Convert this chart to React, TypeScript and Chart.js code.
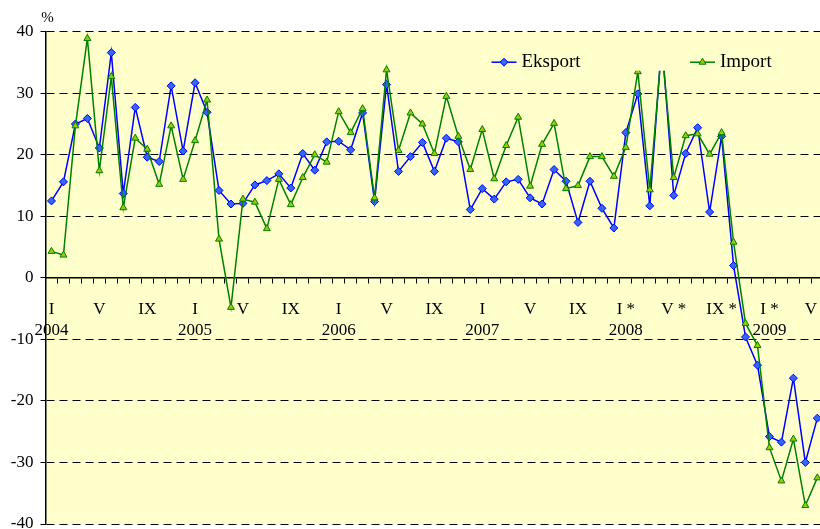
import React, { useEffect, useRef } from 'react';
import { Chart, registerables } from 'chart.js';

Chart.register(...registerables);

// ---- data ----
const romanMonths = ['I', 'II', 'III', 'IV', 'V', 'VI', 'VII', 'VIII', 'IX', 'X', 'XI', 'XII'];
const years = ['2004', '2005', '2006', '2007', '2008', '2009'];
const labelledMonths = ['I', 'V', 'IX'];
const starredYears = ['2008', '2009'];
const yTickMin = -40;
const yTickMax = 40;
const yTickStep = 10;

const eksport = [
  12.5, 15.6, 25.0, 25.9, 21.1, 36.6, 13.7, 27.7, 19.6, 18.9, 31.2, 20.6,
  31.7, 26.9, 14.2, 12.0, 12.1, 15.1, 15.8, 16.9, 14.6, 20.2, 17.5, 22.1,
  22.2, 20.8, 26.8, 12.4, 31.4, 17.3, 19.7, 22.0, 17.3, 22.7, 22.1, 11.1,
  14.5, 12.8, 15.6, 16.0, 13.0, 12.0, 17.6, 15.7, 9.0, 15.7, 11.3, 8.1,
  23.6, 29.9, 11.7, 38.5, 13.4, 20.2, 24.4, 10.7, 23.0, 2.0, -9.6, -14.2,
  -25.8, -26.7, -16.3, -30.0, -22.8,
];

const importValues = [
  4.3, 3.7, 24.7, 38.9, 17.4, 32.7, 11.4, 22.7, 20.9, 15.2, 24.7, 16.0,
  22.3, 28.9, 6.3, -4.8, 12.8, 12.3, 8.0, 16.0, 11.9, 16.3, 20.0, 18.8,
  27.0, 23.6, 27.5, 13.0, 33.8, 20.7, 26.8, 25.0, 20.2, 29.5, 23.0, 17.6,
  24.1, 16.1, 21.5, 26.1, 14.9, 21.7, 25.1, 14.5, 15.0, 19.7, 19.7, 16.5,
  21.2, 33.5, 14.3, 37.5, 16.3, 23.1, 23.4, 20.1, 23.6, 5.8, -7.4, -11.0,
  -27.6, -33.0, -26.2, -37.0, -32.5,
];

const pointMonth: string[] = [];
const pointYear: string[] = [];
years.forEach((y) => romanMonths.forEach((m) => { pointMonth.push(m); pointYear.push(y); }));
const categories = eksport.map((_, i) => `${pointMonth[i]} ${pointYear[i]}`);

const FONT = 'Liberation Serif';

const bgPlugin = {
  id: 'plotBg',
  beforeDraw(chart: any) {
    const { ctx, chartArea: a } = chart;
    ctx.save();
    ctx.fillStyle = '#FFFFCC';
    ctx.fillRect(a.left, a.top, a.right - a.left, a.bottom - a.top);
    ctx.restore();
  },
};

function drawDiamond(ctx: CanvasRenderingContext2D, x: number, y: number, r: number) {
  ctx.beginPath();
  ctx.moveTo(x, y - r);
  ctx.lineTo(x + r, y);
  ctx.lineTo(x, y + r);
  ctx.lineTo(x - r, y);
  ctx.closePath();
  ctx.fill();
  ctx.stroke();
}
function drawTriangle(ctx: CanvasRenderingContext2D, x: number, y: number, r: number) {
  ctx.beginPath();
  ctx.moveTo(x, y - r);
  ctx.lineTo(x + r * 0.866, y + r / 2);
  ctx.lineTo(x - r * 0.866, y + r / 2);
  ctx.closePath();
  ctx.fill();
  ctx.stroke();
}

const legendPlugin = {
  id: 'boxLegend',
  afterDatasetsDraw(chart: any) {
    const { ctx, chartArea: a } = chart;
    const top = a.top + 4;
    const h = 35;
    const cy = top + h / 2 + 9;
    ctx.save();
    ctx.fillStyle = '#FFFFCC';
    ctx.fillRect(a.left + 425, top, 350, h);
    ctx.font = `19px ${FONT}`;
    ctx.textBaseline = 'middle';
    ctx.textAlign = 'left';
    const items = [
      { x: a.left + 446, label: 'Eksport', color: '#0000FF', fill: '#3366FF', shape: 'd' },
      { x: a.left + 644.5, label: 'Import', color: '#008000', fill: '#99CC00', shape: 't' },
    ];
    items.forEach((it) => {
      ctx.strokeStyle = it.color;
      ctx.lineWidth = 1.5;
      ctx.beginPath();
      ctx.moveTo(it.x, cy);
      ctx.lineTo(it.x + 25, cy);
      ctx.stroke();
      ctx.fillStyle = it.fill;
      ctx.lineWidth = 1;
      if (it.shape === 'd') drawDiamond(ctx, it.x + 12.5, cy, 4);
      else drawTriangle(ctx, it.x + 12.5, cy, 4);
      ctx.fillStyle = '#000';
      ctx.fillText(it.label, it.x + 30, cy);
    });
    ctx.restore();
  },
};

const percentPlugin = {
  id: 'percentLabel',
  afterDraw(chart: any) {
    const { ctx, chartArea: a } = chart;
    ctx.save();
    ctx.font = `15px ${FONT}`;
    ctx.fillStyle = '#000';
    ctx.textAlign = 'center';
    ctx.textBaseline = 'middle';
    ctx.fillText('%', a.left + 2, a.top - 14);
    ctx.restore();
  },
};

export default function App() {
  const canvasRef = useRef<HTMLCanvasElement | null>(null);

  useEffect(() => {
    const canvas = canvasRef.current;
    if (!canvas) return;
    const chart = new Chart(canvas, {
      type: 'line',
      data: {
        labels: categories,
        datasets: [
          {
            label: 'Eksport',
            data: eksport,
            borderColor: '#0000FF',
            borderWidth: 1.5,
            pointStyle: 'rectRot',
            pointRadius: 4,
            pointBackgroundColor: '#3366FF',
            pointBorderColor: '#0000FF',
            pointBorderWidth: 1,
            tension: 0,
            fill: false,
            order: 1,
          },
          {
            label: 'Import',
            data: importValues,
            borderColor: '#008000',
            borderWidth: 1.5,
            pointStyle: 'triangle',
            pointRadius: 4,
            pointBackgroundColor: '#99CC00',
            pointBorderColor: '#008000',
            pointBorderWidth: 1,
            tension: 0,
            fill: false,
            order: 0,
          },
        ],
      },
      options: {
        responsive: false,
        animation: false,
        layout: { padding: { top: 31.7, right: 6.7, bottom: 4.7, left: 0 } },
        plugins: { legend: { display: false }, tooltip: { enabled: false } },
        scales: {
          x: {
            type: 'category',
            offset: true,
            position: { y: 0 } as any,
            grid: { drawOnChartArea: false, offset: true, drawTicks: true, tickLength: 5, color: '#000', lineWidth: 1 },
            border: { display: true, color: '#000', width: 1.5 },
            ticks: {
              autoSkip: false,
              maxRotation: 0,
              minRotation: 0,
              padding: 16.5,
              color: '#000',
              font: { family: FONT, size: 17, lineHeight: 1.24 },
              callback: (_v: any, index: number) => {
                const m = pointMonth[index];
                const yr = pointYear[index];
                if (!labelledMonths.includes(m)) return '';
                const text = m + (starredYears.includes(yr) ? ' *' : '');
                return m === 'I' ? [text, yr] : text;
              },
            },
            afterFit: (s: any) => { s.paddingLeft = 0; s.paddingRight = 0; },
          } as any,
          y: {
            min: yTickMin,
            max: yTickMax,
            ticks: { stepSize: yTickStep, color: '#000', padding: 7, font: { family: FONT, size: 17 } },
            grid: { color: '#000', lineWidth: 1, drawTicks: true, tickLength: 5, tickColor: '#000' },
            border: { display: true, color: '#000', width: 1.5, dash: [8, 5] },
            afterFit: (s: any) => { s.width = 45.5; s.paddingTop = 0; s.paddingBottom = 0; },
          } as any,
        },
      },
      plugins: [bgPlugin, legendPlugin, percentPlugin],
    });
    return () => chart.destroy();
  }, []);

  return (
    <div style={{ position: 'absolute', left: 0, top: 0, width: 820, height: 529, overflow: 'hidden', background: '#fff' }}>
      <canvas ref={canvasRef} width={830} height={529} style={{ display: 'block' }} />
    </div>
  );
}
